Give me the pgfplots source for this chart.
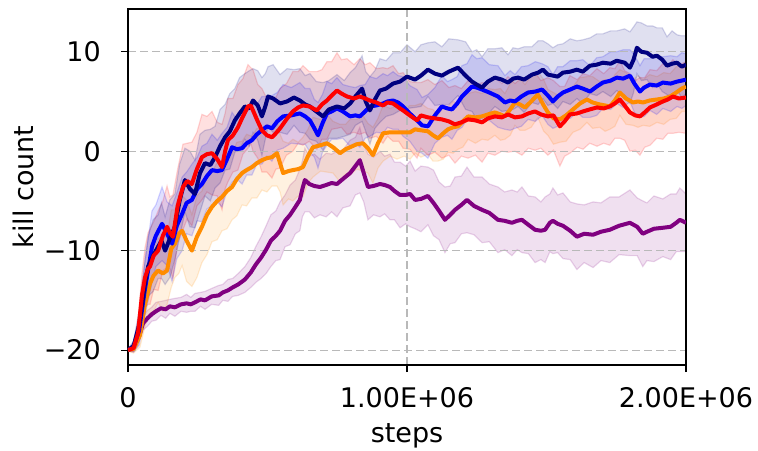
\documentclass[border=0pt]{standalone}
\usepackage{fontspec}
\setmainfont{DejaVu Sans}
\usepackage{pgfplots}
\usepackage{pgfplotstable}
\pgfplotsset{compat=1.18}

\definecolor{cnavy}{RGB}{0,0,128}
\definecolor{cblue}{RGB}{0,0,255}
\definecolor{corange}{RGB}{255,140,0}
\definecolor{cred}{RGB}{255,0,0}
\definecolor{cpurple}{RGB}{128,0,128}

\pgfplotstableread{
x m s
0 -20 0.1
20000 -19.6 0.5
40000 -17.5 1.5
60000 -13.5 2.5
72000 -11.6 3.0
90000 -10.5 3.6
108000 -9.6 3.2
120000 -9.0 3.8
133000 -10.0 3.4
150000 -8.8 3.9
168000 -7.6 3.3
185000 -5.0 3.7
204000 -2.9 3.2
222000 -3.8 3.8
240000 -4.3 3.4
258000 -2.2 3.9
276000 -1.2 3.3
295000 -1.4 3.6
312000 -0.6 3.1
330000 0.5 3.7
348000 1.4 3.3
365000 2.0 3.8
383000 3.1 3.2
400000 3.8 3.6
419000 4.5 3.3
435000 4.3 3.8
448000 5.1 3.2
465000 4.6 3.5
480000 3.5 3.9
492000 4.5 3.3
502000 5.5 3.0
520000 5.3 3.4
545000 4.8 2.9
570000 5.0 3.3
595000 5.4 2.8
616000 5.1 3.2
635000 4.7 2.9
652000 4.5 3.3
675000 4.0 3.0
699000 3.5 3.4
720000 4.2 2.9
749000 4.5 3.2
775000 4.3 2.8
796000 4.8 3.1
815000 5.5 2.9
839000 6.3 3.3
852000 5.0 3.0
867000 4.1 3.4
885000 5.2 2.9
903000 6.1 3.2
925000 6.3 2.8
950000 6.8 3.1
975000 7.0 2.9
1000000 7.5 3.2
1029000 7.2 2.8
1050000 7.6 3.1
1075000 8.2 2.7
1100000 7.8 3.2
1125000 7.6 2.9
1150000 8.0 3.3
1183000 8.4 2.8
1210000 7.6 3.4
1233000 7.0 3.0
1250000 6.7 3.5
1269000 6.4 3.1
1290000 7.0 3.3
1315000 7.4 2.9
1340000 7.2 3.2
1362000 6.9 2.8
1380000 7.3 3.1
1398000 7.4 2.9
1420000 7.2 3.3
1448000 7.7 2.8
1470000 7.9 3.2
1487000 8.2 2.9
1505000 7.7 3.1
1523000 7.6 2.8
1540000 7.5 3.2
1559000 7.9 2.9
1585000 8.0 3.3
1609000 8.2 2.9
1630000 8.0 3.2
1656000 8.6 2.8
1680000 8.7 3.1
1702000 8.9 2.9
1730000 8.8 3.3
1752000 9.1 3.0
1780000 8.9 3.4
1799000 8.4 3.6
1812000 9.2 3.3
1824000 10.4 2.6
1840000 10.0 2.9
1860000 9.9 2.7
1880000 9.5 3.1
1896000 9.6 2.8
1915000 9.2 3.2
1932000 8.6 2.9
1950000 8.8 3.3
1968000 8.9 2.8
1985000 8.5 3.1
2000000 8.7 2.9
}\tnavy

\pgfplotstableread{
x m s
0 -20 0.1
20000 -19.7 0.5
40000 -18 1.5
60000 -14 2.6
75000 -11.5 3.2
86000 -9.6 3.6
100000 -8.5 3.1
122000 -7.3 3.7
140000 -8.3 3.2
158000 -9.3 3.8
175000 -7.5 3.3
194000 -6.3 3.7
210000 -5.2 3.1
229000 -4.9 3.6
248000 -3.8 3.2
265000 -3.3 3.8
283000 -2.5 3.3
301000 -1.9 3.6
320000 -2.0 3.1
337000 -1.9 3.7
355000 -0.8 3.2
373000 0.4 3.5
390000 0.2 3.0
409000 0.3 3.6
425000 0.8 3.2
444000 1.1 3.5
462000 1.7 3.0
480000 2.1 3.4
498000 2.5 3.0
516000 2.3 3.3
535000 3.0 2.9
556000 3.5 3.2
585000 3.6 2.8
616000 3.8 3.1
635000 3.5 2.8
652000 3.1 3.2
668000 2.3 2.9
681000 1.6 3.3
697000 2.8 2.9
713000 3.8 3.2
730000 4.0 2.8
749000 4.3 3.1
770000 4.0 2.7
796000 3.5 3.0
815000 3.6 2.8
831000 3.5 3.1
850000 4.0 2.7
867000 4.5 3.0
890000 4.6 2.7
914000 4.8 3.0
930000 5.0 2.6
950000 5.1 2.9
968000 4.9 2.7
986000 4.5 3.0
1010000 3.8 2.8
1036000 3.1 3.1
1054000 2.6 2.8
1075000 2.5 3.2
1100000 3.6 2.8
1125000 4.5 3.1
1145000 4.3 2.7
1161000 4.2 3.0
1180000 4.8 2.7
1197000 5.5 3.1
1215000 6.0 2.8
1233000 6.5 3.2
1250000 6.4 2.9
1269000 6.2 3.2
1295000 5.9 2.8
1326000 5.5 3.1
1351000 4.9 2.7
1370000 5.1 3.0
1387000 5.0 2.7
1410000 5.5 3.0
1434000 5.9 2.7
1460000 6.0 3.0
1484000 6.2 2.6
1505000 5.6 2.9
1523000 5.0 2.7
1540000 5.5 3.0
1559000 5.9 2.6
1585000 6.2 2.9
1609000 6.5 2.6
1630000 6.3 2.9
1656000 6.0 2.6
1680000 6.5 2.9
1702000 6.9 2.6
1730000 7.1 2.9
1752000 7.4 2.6
1775000 7.3 2.9
1799000 7.6 2.6
1815000 6.8 2.9
1835000 6.0 2.6
1850000 6.4 2.9
1871000 6.7 2.6
1895000 6.6 2.9
1917000 6.9 2.6
1945000 6.8 2.8
1968000 7.0 2.5
1985000 7.1 2.8
2000000 7.2 2.6
}\tblue

\pgfplotstableread{
x m s
0 -20 0.1
20000 -19.8 0.4
36000 -18.3 1.2
50000 -14.5 2.2
61000 -12.7 3.0
72000 -11.8 3.6
79000 -11.6 3.8
92000 -10.5 3.4
108000 -10.0 4.0
125000 -8.5 3.5
140000 -7.6 4.1
150000 -8.2 3.6
161000 -8.6 4.2
178000 -5.5 3.7
197000 -3.6 4.3
212000 -3.0 3.8
229000 -3.3 4.2
247000 -1.8 3.7
265000 -0.6 4.3
283000 -0.3 3.8
301000 -0.2 4.2
320000 -0.8 3.7
337000 -1.6 4.3
348000 0.0 3.8
358000 1.1 4.2
376000 1.6 3.7
394000 2.4 4.3
412000 3.5 3.8
430000 4.5 4.2
440000 4.6 3.8
448000 4.1 4.1
465000 3.0 3.7
480000 2.1 4.2
498000 1.6 3.7
516000 1.4 4.1
530000 1.8 3.6
545000 2.3 4.0
568000 3.2 3.6
591000 4.0 4.0
610000 4.4 3.6
627000 4.6 4.0
650000 4.5 3.5
677000 4.1 3.9
695000 4.7 3.5
713000 5.1 3.9
730000 5.6 3.4
749000 6.1 3.8
765000 5.8 3.4
785000 5.5 3.8
810000 5.3 3.4
831000 5.5 3.8
850000 5.3 3.4
867000 5.1 3.8
890000 4.9 3.4
914000 4.6 3.8
930000 4.9 3.4
950000 4.8 3.8
970000 4.4 3.4
986000 4.1 3.8
1010000 3.6 3.4
1036000 3.1 3.8
1050000 3.6 3.3
1075000 3.4 3.8
1100000 3.3 3.4
1125000 3.2 3.9
1150000 3.0 3.4
1172000 2.7 3.9
1195000 2.9 3.4
1219000 3.2 3.9
1245000 3.1 3.5
1269000 2.9 4.0
1290000 3.3 3.5
1315000 3.5 3.9
1340000 3.4 3.4
1362000 3.7 3.8
1387000 3.4 3.4
1412000 3.5 3.9
1435000 3.8 3.5
1459000 4.0 3.9
1480000 3.7 3.4
1505000 3.5 3.9
1525000 3.6 3.5
1548000 2.5 4.0
1565000 3.0 3.5
1584000 3.7 3.9
1610000 3.8 3.4
1631000 4.0 3.8
1655000 4.2 3.4
1681000 4.4 3.9
1705000 4.3 3.5
1727000 4.5 3.9
1745000 4.8 3.5
1763000 5.2 3.9
1780000 4.6 3.5
1799000 3.9 3.9
1818000 3.6 3.5
1835000 3.5 3.9
1852000 3.9 3.5
1871000 4.4 3.8
1895000 4.7 3.4
1917000 5.0 3.8
1935000 5.2 3.4
1953000 5.5 3.7
1975000 5.3 3.4
2000000 5.4 3.6
}\tred

\pgfplotstableread{
x m s
0 -20 0.1
20000 -19.9 0.4
43000 -18.5 1.2
60000 -15.5 2.2
79000 -13.3 3.0
92000 -12.5 3.6
108000 -12.0 3.2
125000 -12.3 3.8
140000 -12.0 3.4
155000 -9.8 3.9
168000 -9.3 3.4
182000 -8.3 4.0
194000 -8.0 3.5
210000 -9.0 4.1
229000 -10.0 3.6
247000 -8.6 4.1
265000 -7.6 3.6
283000 -6.4 4.0
301000 -5.6 3.5
320000 -5.0 3.9
337000 -4.6 3.4
355000 -4.0 3.8
373000 -3.6 3.3
390000 -2.8 3.7
409000 -2.2 3.2
425000 -1.9 3.6
444000 -1.6 3.1
462000 -1.2 3.5
480000 -0.9 3.0
498000 -0.7 3.4
516000 -0.6 2.9
534000 -0.2 3.3
545000 -1.2 2.9
556000 -2.2 3.2
575000 -2.0 2.8
591000 -1.9 3.1
610000 -1.8 2.7
627000 -1.6 3.0
645000 -0.5 2.7
663000 0.4 3.0
690000 0.6 2.6
713000 0.8 2.9
735000 0.4 2.6
760000 -0.2 2.9
780000 0.2 2.5
796000 0.4 2.8
820000 0.7 2.5
842000 0.8 2.8
860000 0.3 2.5
878000 -0.4 2.8
896000 0.8 2.5
914000 1.8 2.8
940000 1.9 2.4
964000 1.9 2.7
990000 1.9 2.4
1011000 1.9 2.7
1029000 2.2 2.4
1050000 2.1 2.7
1075000 2.0 2.3
1093000 1.6 2.6
1111000 1.3 2.3
1130000 1.8 2.6
1147000 2.2 2.3
1165000 2.4 2.6
1183000 2.5 2.3
1200000 3.0 2.6
1219000 3.5 2.3
1245000 3.4 2.6
1269000 3.5 2.3
1290000 3.7 2.6
1315000 3.9 2.3
1335000 3.7 2.6
1351000 3.5 2.3
1370000 4.2 2.6
1387000 4.9 2.3
1405000 4.7 2.6
1423000 4.4 2.3
1445000 5.0 2.6
1469000 5.7 2.3
1490000 4.6 2.6
1505000 3.9 2.3
1525000 3.3 2.6
1548000 3.2 2.3
1570000 3.6 2.6
1595000 4.2 2.3
1620000 4.8 2.6
1645000 5.2 2.3
1665000 4.9 2.6
1691000 4.7 2.3
1710000 4.6 2.6
1727000 4.5 2.3
1745000 5.1 2.6
1763000 5.9 2.3
1785000 5.3 2.6
1810000 4.9 2.3
1828000 5.0 2.6
1846000 4.9 2.3
1870000 5.1 2.6
1896000 5.2 2.3
1920000 5.3 2.6
1943000 5.5 2.3
1965000 5.9 2.6
1985000 6.3 2.3
2000000 6.5 2.5
}\torange

\pgfplotstableread{
x m s
0 -20 0.1
20000 -19.7 0.3
40000 -18.6 0.5
54000 -17.3 0.7
70000 -16.8 0.8
85000 -16.4 0.7
100000 -16.1 0.9
118000 -15.8 0.7
135000 -15.9 0.9
150000 -15.6 0.7
168000 -15.7 0.9
190000 -15.4 0.7
210000 -15.3 0.9
225000 -15.4 0.7
240000 -15.2 0.9
260000 -14.9 0.7
276000 -15.0 0.9
300000 -14.6 0.8
325000 -14.5 1.0
340000 -14.2 0.8
358000 -14.0 1.1
375000 -13.7 0.9
395000 -13.4 1.1
419000 -12.9 1.3
440000 -12.2 1.5
458000 -11.4 1.8
477000 -10.7 2.1
495000 -9.9 2.4
512000 -9.0 2.6
530000 -8.5 2.5
545000 -8.0 2.9
563000 -7.0 2.6
581000 -6.4 3.0
600000 -5.6 2.7
616000 -4.9 3.1
625000 -3.8 2.8
634000 -2.9 3.2
650000 -3.3 2.8
668000 -3.5 3.2
688000 -3.6 2.8
710000 -3.4 3.2
730000 -3.2 2.9
749000 -3.3 3.3
770000 -2.8 2.9
796000 -2.2 3.3
815000 -1.5 2.9
831000 -0.9 3.3
845000 -2.2 2.9
860000 -3.6 3.3
880000 -3.5 2.9
903000 -3.3 3.3
920000 -3.4 2.9
939000 -3.6 3.3
955000 -4.0 2.9
975000 -4.4 3.3
995000 -4.4 2.9
1011000 -4.3 3.3
1029000 -4.9 2.9
1050000 -4.8 3.3
1075000 -4.5 2.9
1095000 -5.2 3.3
1115000 -6.0 2.9
1136000 -6.9 3.3
1155000 -6.4 2.9
1172000 -5.9 3.3
1195000 -5.4 2.9
1215000 -4.9 3.3
1240000 -5.5 2.9
1269000 -5.9 3.3
1295000 -6.2 2.9
1326000 -6.9 3.3
1350000 -7.0 2.9
1376000 -7.2 3.3
1395000 -7.0 2.9
1412000 -6.9 3.3
1435000 -7.4 2.9
1459000 -7.9 3.3
1480000 -8.0 2.9
1495000 -7.9 3.3
1512000 -7.2 2.9
1523000 -7.0 3.3
1540000 -7.3 2.9
1559000 -7.5 3.3
1585000 -8.0 2.9
1609000 -8.6 3.3
1635000 -8.3 2.9
1667000 -8.4 3.3
1695000 -8.1 2.9
1727000 -7.9 3.3
1760000 -7.5 2.9
1799000 -7.2 3.3
1825000 -7.6 2.9
1845000 -8.3 3.3
1860000 -8.1 2.9
1885000 -7.8 3.3
1917000 -7.7 2.9
1945000 -7.6 3.3
1965000 -7.2 2.9
1978000 -6.9 3.2
2000000 -7.2 2.9
}\tpurple

\pgfplotsset{
  base/.style={
    at={(0,0)}, anchor=south west,
    scale only axis, width=558pt, height=356pt,
    xmin=0, xmax=2000000, ymin=-21.5, ymax=14.3,
  },
}

% #1 colour, #2 table macro: band of half-width s around the mean m
\newcommand{\bandaxis}[2]{%
  \begin{axis}[base, hide axis]
  \addplot[draw=none, stack plots=y]
    table[x=x, y expr=\thisrow{m}-\thisrow{s}] {#2};
  \addplot[fill=#1, fill opacity=0.12, draw=none, stack plots=y]
    table[x=x, y expr=2*\thisrow{s}] {#2} \closedcycle;
  \addplot[draw=#1, draw opacity=0.16, line width=1.2pt]
    table[x=x, y expr=\thisrow{m}+\thisrow{s}] {#2};
  \addplot[draw=#1, draw opacity=0.16, line width=1.2pt]
    table[x=x, y expr=\thisrow{m}-\thisrow{s}] {#2};
  \end{axis}
}

\begin{document}
\begin{tikzpicture}
\useasboundingbox (-128pt,-85pt) rectangle (630pt,365pt);
\bandaxis{cpurple}{\tpurple}
\bandaxis{corange}{\torange}
\bandaxis{cred}{\tred}
\bandaxis{cblue}{\tblue}
\bandaxis{cnavy}{\tnavy}
\begin{axis}[
  base,
  scaled x ticks=false,
  xtick={0,1000000,2000000},
  xticklabels={0,1.00E+06,2.00E+06},
  ytick={-20,-10,0,10},
  yticklabels={−20,−10,0,10},
  xtick pos=left, ytick pos=left,
  tick align=outside,
  major tick length=7pt,
  every tick/.style={black, line width=1.1pt},
  axis line style={black, line width=1.2pt},
  grid=major,
  major grid style={gray!55, line width=1.1pt, dash pattern=on 8pt off 4pt},
  tick label style={font=\fontsize{27}{32}\selectfont, inner sep=0pt},
  label style={font=\fontsize{27}{32}\selectfont, inner sep=0pt},
  yticklabel style={anchor=east, xshift=-20pt},
  xticklabel style={anchor=base, yshift=-35pt},
  xlabel={steps},
  ylabel={kill count},
  xlabel style={at={(axis description cs:0.5,-0.2163)}, anchor=base},
  ylabel style={at={(axis description cs:-0.1882,0.5)}, anchor=center},
  every axis plot/.append style={line join=round},
]
\addplot[cpurple, line width=4pt] table[x=x,y=m] {\tpurple};
\addplot[corange, line width=4pt] table[x=x,y=m] {\torange};
\addplot[cblue, line width=4pt] table[x=x,y=m] {\tblue};
\addplot[cnavy, line width=4pt] table[x=x,y=m] {\tnavy};
\addplot[cred, line width=4pt] table[x=x,y=m] {\tred};
\end{axis}
\end{tikzpicture}
\end{document}
